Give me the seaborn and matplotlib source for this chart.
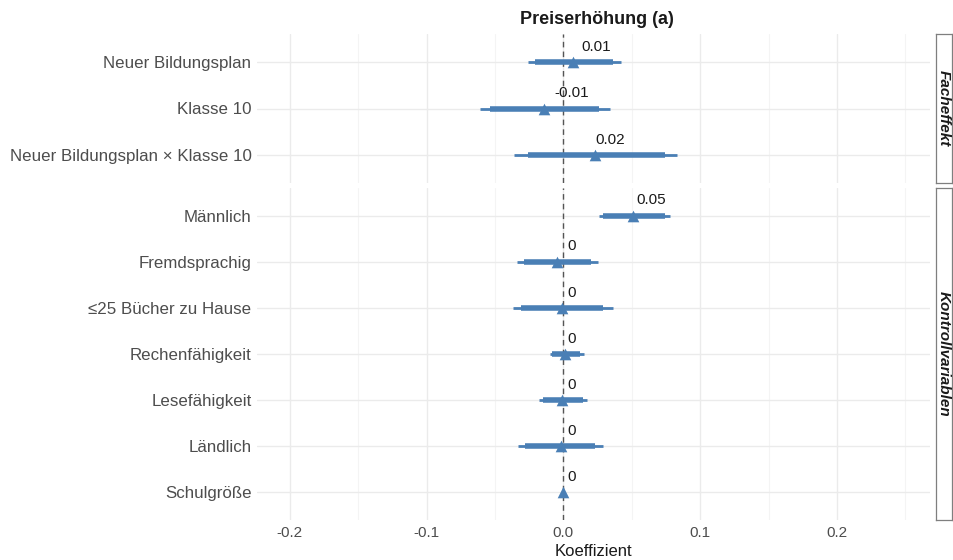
import numpy as np
import pandas as pd
import matplotlib
matplotlib.use("Agg")
import matplotlib.pyplot as plt
import seaborn as sns

# ---------------- data ----------------
terms_top = ["Neuer Bildungsplan", "Klasse 10", "Neuer Bildungsplan × Klasse 10"]
est_top = [0.0073, -0.014, 0.023]
lo95_top = [-0.026, -0.061, -0.036]
hi95_top = [0.042, 0.034, 0.083]
lo90_top = [-0.021, -0.054, -0.026]
hi90_top = [0.036, 0.026, 0.074]
lab_top = ["0.01", "-0.01", "0.02"]

terms_bot = ["Männlich", "Fremdsprachig", "≤25 Bücher zu Hause", "Rechenfähigkeit",
             "Lesefähigkeit", "Ländlich", "Schulgröße"]
est_bot = [0.051, -0.0044, -0.0007, 0.0015, -0.0007, -0.0015, 0.0]
lo95_bot = [0.026, -0.034, -0.037, -0.010, -0.018, -0.033, -0.0005]
hi95_bot = [0.078, 0.025, 0.036, 0.015, 0.017, 0.029, 0.0005]
lo90_bot = [0.029, -0.029, -0.031, -0.008, -0.015, -0.028, -0.0004]
hi90_bot = [0.074, 0.020, 0.029, 0.012, 0.014, 0.023, 0.0004]
lab_bot = ["0.05", "0", "0", "0", "0", "0", "0"]

facets = ["Facheffekt", "Kontrollvariablen"]
title = "Preiserhöhung (a)"
xlabel = "Koeffizient"
xticks = [-0.2, -0.1, 0.0, 0.1, 0.2]
xticklabels = ["-0.2", "-0.1", "0.0", "0.1", "0.2"]
xlim = (-0.224, 0.268)

color = "#4A7FB5"

sns.set_theme(style="whitegrid")
plt.rcParams["font.family"] = ["Liberation Sans", "DejaVu Sans"]

fig = plt.figure(figsize=(9.54, 5.6), dpi=100)
L, R = 257 / 954, 930 / 954
SL, SR = 936 / 954, 952 / 954

def fy(p):
    return 1 - p / 560

panels = [
    (34, 183, terms_top, est_top, lo95_top, hi95_top, lo90_top, hi90_top, lab_top, facets[0]),
    (188, 520, terms_bot, est_bot, lo95_bot, hi95_bot, lo90_bot, hi90_bot, lab_bot, facets[1]),
]

for i, (t, b, terms, est, l95, h95, l90, h90, labs, fac) in enumerate(panels):
    ax = fig.add_axes([L, fy(b), R - L, fy(t) - fy(b)])
    n = len(terms)
    df = pd.DataFrame({"term": terms, "est": est, "lo95": l95, "hi95": h95,
                       "lo90": l90, "hi90": h90, "lab": labs, "pos": np.arange(n)})
    ax.set_facecolor("white")
    ax.axvline(0, color="#555555", lw=1.0, ls=(0, (4, 3)), zorder=1)
    ax.hlines(df["pos"], df["lo95"], df["hi95"], color=color, lw=2.0, zorder=2)
    ax.hlines(df["pos"], df["lo90"], df["hi90"], color=color, lw=4.0, zorder=3)
    sns.scatterplot(data=df, x="est", y="pos", marker="^", s=70, color=color,
                    edgecolor=color, linewidth=0, ax=ax, zorder=4, legend=False)
    for _, r in df.iterrows():
        ax.annotate(r["lab"], (float(r["lab"]), r["pos"]), xytext=(3, 6),
                    textcoords="offset points", ha="left", va="bottom",
                    fontsize=11, color="#1a1a1a")
    ax.set_xlim(*xlim)
    ax.set_ylim(n - 0.4, -0.6)
    ax.set_yticks(df["pos"])
    ax.set_yticklabels(terms, fontsize=12.2, color="#4d4d4d")
    ax.set_xticks(xticks)
    ax.set_xticks([-0.15, -0.05, 0.05, 0.15, 0.25], minor=True)
    ax.grid(True, which="major", color="#ebebeb", lw=1.0)
    ax.grid(True, which="minor", axis="x", color="#f4f4f4", lw=0.8)
    ax.tick_params(axis="both", length=0, pad=4)
    for s in ax.spines.values():
        s.set_visible(False)
    ax.set_ylabel("")
    ax.set_xlabel("")
    if i == 0:
        ax.set_xticklabels([])
        ax.set_title(title, fontsize=13, fontweight="bold", color="#1a1a1a", pad=7, x=0.505)
    else:
        ax.set_xticklabels(xticklabels, fontsize=11, color="#4d4d4d")
        ax.set_xlabel(xlabel, fontsize=12, color="#1a1a1a", labelpad=3)

    sax = fig.add_axes([SL, fy(b), SR - SL, fy(t) - fy(b)])
    sax.set_facecolor("white")
    sax.set_xticks([]); sax.set_yticks([])
    for s in sax.spines.values():
        s.set_visible(True)
        s.set_color("#7f7f7f")
        s.set_linewidth(0.9)
    sax.text(0.5, 0.5, fac, rotation=-90, ha="center", va="center",
             fontsize=11, fontweight="bold", fontstyle="italic", color="#1a1a1a",
             transform=sax.transAxes)

fig.savefig("out.png", dpi=100, facecolor="white")
